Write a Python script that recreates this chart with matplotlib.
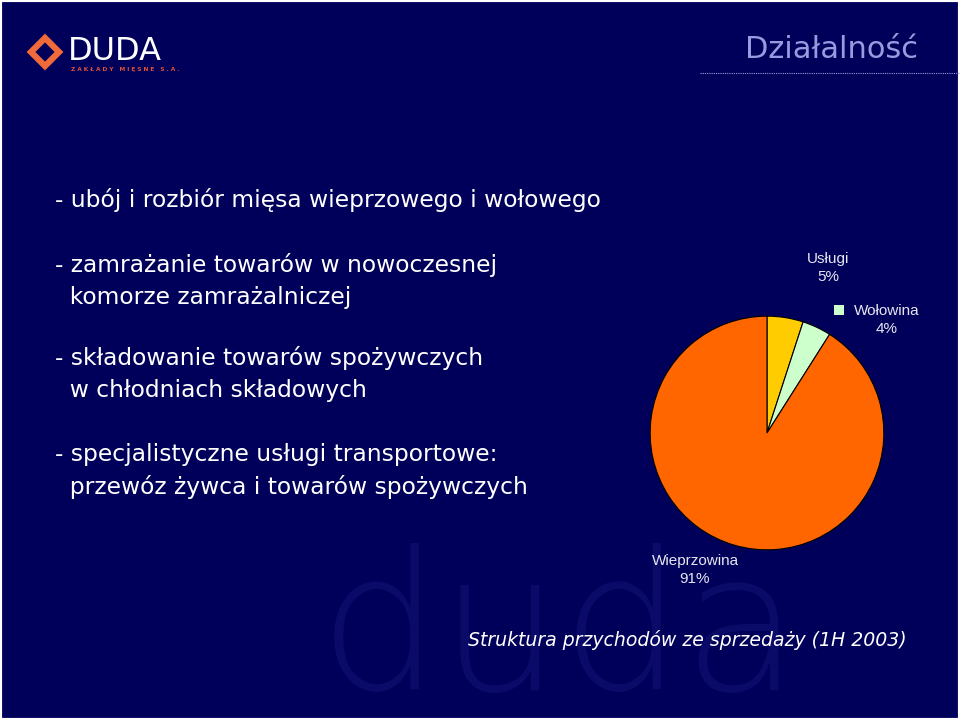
import matplotlib.pyplot as plt
from matplotlib.patches import Polygon, Rectangle

plt.rcParams['font.family'] = ['DejaVu Sans']

# dane
kategorie = ['Usługi', 'Wołowina', 'Wieprzowina']
udzialy = [5, 4, 91]
kolory = ['#FFCC00', '#CCFFCC', '#FF6600']

punkty = [
    '- ubój i rozbiór mięsa wieprzowego i wołowego',
    '- zamrażanie towarów w nowoczesnej\n  komorze zamrażalniczej',
    '- składowanie towarów spożywczych\n  w chłodniach składowych',
    '- specjalistyczne usługi transportowe:\n  przewóz żywca i towarów spożywczych',
]
punkty_y = [200, 281, 374, 471]

W, H = 960, 720
bg = '#00005A'

fig = plt.figure(figsize=(9.6, 7.2), dpi=100, facecolor=bg)
tlo = fig.add_axes([0, 0, 1, 1])
tlo.set_xlim(0, W)
tlo.set_ylim(H, 0)
tlo.axis('off')
tlo.set_facecolor(bg)

# znak wodny "duda"
tlo.text(560, 690, 'duda', fontsize=138, color='#0a0a68', ha='center', va='baseline',
         family='DejaVu Sans', fontweight='light', zorder=0)

# logo
tlo.add_patch(Polygon([[31, 52], [45, 38], [59, 52], [45, 66]], closed=True, fill=False,
                      edgecolor='#F06A3A', linewidth=4.5))
tlo.text(68, 52, 'DUDA', fontsize=23, color='white', va='center', ha='left')
tlo.text(71, 70, 'Z A K Ł A D Y   M I Ę S N E   S . A .', fontsize=4.2, color='#E0503A',
         va='center', ha='left', fontweight='bold')

# tytuł
tlo.text(918, 50, 'Działalność', fontsize=22, color='#9A9AE0', ha='right', va='center')
tlo.plot([700, 960], [73, 73], color='#9A9AE0', linestyle=(0, (1, 1)), linewidth=0.8)

# punkty
for tekst, y in zip(punkty, punkty_y):
    tlo.text(55, y, tekst, fontsize=16.8, color='white', ha='left', va='center',
             linespacing=1.5)

# wykres kołowy
cx, cy, r = 767, 433, 118
pie_ax = fig.add_axes([(cx - r) / W, 1 - (cy + r) / H, 2 * r / W, 2 * r / H])
pie_ax.pie(udzialy, colors=kolory, startangle=90, counterclock=False,
           wedgeprops=dict(edgecolor='black', linewidth=0.8))
pie_ax.set_xlim(-1.01, 1.01)
pie_ax.set_ylim(-1.01, 1.01)
pie_ax.set_aspect('equal')

etykiety_xy = [(828, 268), (887, 320), (695, 570)]
for nazwa, wart, (x, y) in zip(kategorie, udzialy, etykiety_xy):
    tlo.text(x, y, f'{nazwa}\n{wart}%', fontsize=11, color='#E6E6F0', ha='center',
             va='center', family='Liberation Sans', linespacing=1.3)
tlo.add_patch(Rectangle((834, 305), 10, 10, facecolor=kolory[1], edgecolor='none'))

tlo.text(687, 640, 'Struktura przychodów ze sprzedaży (1H 2003)', fontsize=13.6,
         color='white', style='italic', ha='center', va='center')

# ramka
tlo.add_patch(Rectangle((0, 0), W, H, fill=False, edgecolor='white', linewidth=3))

fig.savefig('out.png', dpi=100, facecolor=bg)
